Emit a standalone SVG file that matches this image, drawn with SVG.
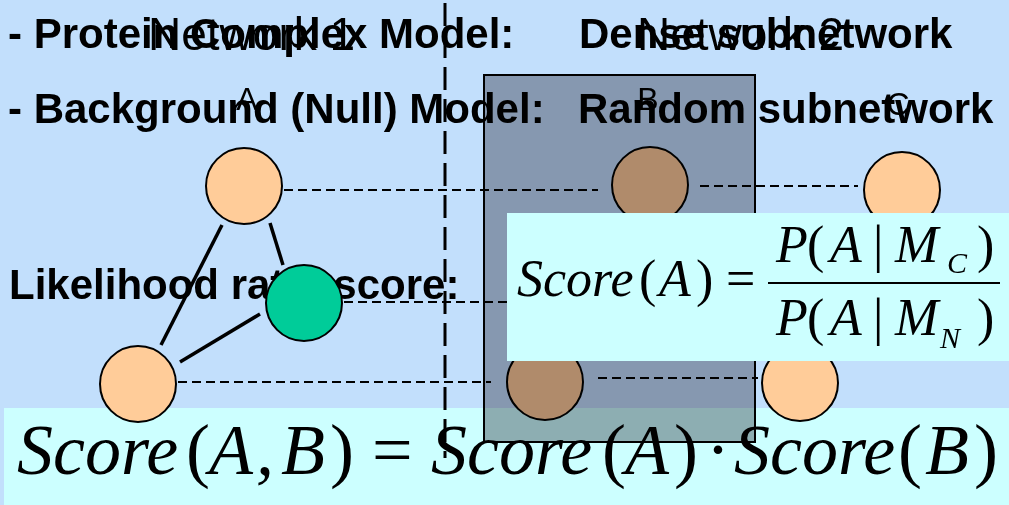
<svg xmlns="http://www.w3.org/2000/svg" width="1009" height="505" viewBox="0 0 1009 505">
<style>
.bg{fill:#C2DFFC}
.cyan{fill:#CCFFFF}
.hd{font-family:"Liberation Sans",Arial,sans-serif;font-weight:bold;font-size:42px;fill:#000}
.net{font-family:"Liberation Sans",Arial,sans-serif;font-size:46px;fill:#000}
.lbl{font-family:"Liberation Sans",Arial,sans-serif;font-size:32px;fill:#000;text-anchor:middle}
.node{stroke:#000;stroke-width:2}
.orange{fill:#FFCC99}
.green{fill:#00CC99}
.edge{stroke:#000;stroke-width:3.5;fill:none}
.dash{stroke:#000;stroke-width:2;stroke-dasharray:9 5;fill:none}
.vdash{stroke:#000;stroke-width:3;stroke-dasharray:23 9;fill:none}
.math{font-family:"Liberation Serif","Times New Roman",serif;fill:#000}
.it{font-style:italic}
.sel{fill:rgb(176,174,178);stroke:#000;stroke-width:2;mix-blend-mode:multiply}
</style>
<rect class="bg" x="0" y="0" width="1009" height="505"/>
<rect id="score-ab-box" class="cyan" x="4" y="408" width="1005" height="97"/>
<line class="vdash" x1="445" y1="3" x2="445" y2="458"/>
<g id="titles">
<text class="hd" x="8" y="48">- Protein Complex Model:<tspan x="579">Dense subnetwork</tspan></text>
<text class="hd" x="8" y="123">- Background (Null) Model:<tspan x="578">Random subnetwork</tspan></text>
<text class="net" x="148" y="50">Network 1</text>
<text class="net" x="637" y="50">Network 2</text>
<text class="lbl" x="247" y="110">A</text>
<text class="lbl" x="648" y="110">B</text>
<text class="lbl" x="898" y="115">C</text>
<text class="hd" x="9" y="299">Likelihood ratio score:</text>
</g>
<g id="connectors">
<line class="edge" x1="222" y1="225" x2="161" y2="345"/>
<line class="edge" x1="270" y1="223" x2="283" y2="265"/>
<line class="edge" x1="260" y1="314" x2="180" y2="362"/>
<line class="dash" x1="284" y1="190" x2="598" y2="190"/>
<line class="dash" x1="700" y1="186" x2="858" y2="186"/>
<line class="dash" x1="344" y1="302" x2="507" y2="302"/>
<line class="dash" x1="178" y1="382" x2="491" y2="382"/>
<line class="dash" x1="598" y1="378" x2="758" y2="378"/>
</g>
<g id="n1-top"><circle class="node orange" cx="244" cy="186" r="38"/></g>
<g id="n1-green"><circle class="node green" cx="304" cy="303" r="38"/></g>
<g id="n1-bottom"><circle class="node orange" cx="138" cy="384" r="38"/></g>
<g id="n2-b-top"><circle class="node orange" cx="650" cy="185" r="38"/></g>
<g id="n2-c-top"><circle class="node orange" cx="902" cy="190" r="38"/></g>
<g id="n2-b-bottom"><circle class="node orange" cx="545" cy="382" r="38"/></g>
<g id="n2-c-bottom"><circle class="node orange" cx="800" cy="383" r="38"/></g>
<rect id="random-subnetwork" class="sel" x="484" y="75" width="271" height="367"/>
<g id="score-a">
<rect class="cyan" x="507" y="213" width="502" height="148"/>
<text class="math" font-size="52" y="296"><tspan class="it" x="517">Score</tspan><tspan x="639">(</tspan><tspan class="it" x="659">A</tspan><tspan x="696">)</tspan><tspan x="726">=</tspan></text>
<line x1="768" y1="283" x2="1000" y2="283" stroke="#000" stroke-width="2"/>
<text class="math" font-size="52" y="262"><tspan class="it" x="776">P</tspan><tspan x="807">(</tspan><tspan class="it" x="830">A</tspan><tspan x="873">|</tspan><tspan class="it" x="895">M</tspan><tspan x="977">)</tspan></text>
<text class="math it" font-size="30" x="947" y="273">C</text>
<text class="math" font-size="52" y="335"><tspan class="it" x="776">P</tspan><tspan x="807">(</tspan><tspan class="it" x="830">A</tspan><tspan x="873">|</tspan><tspan class="it" x="895">M</tspan><tspan x="977">)</tspan></text>
<text class="math it" font-size="30" x="940" y="348">N</text>
</g>
<g id="score-ab">
<text class="math" font-size="72" y="474"><tspan class="it" x="17">Score</tspan><tspan x="186">(</tspan><tspan class="it" x="209">A</tspan><tspan class="it" x="256">,</tspan><tspan class="it" x="281">B</tspan><tspan x="330">)</tspan><tspan x="372">=</tspan><tspan class="it" x="431">Score</tspan><tspan x="602">(</tspan><tspan class="it" x="625">A</tspan><tspan x="674">)</tspan><tspan x="706">·</tspan><tspan class="it" x="734">Score</tspan><tspan x="898">(</tspan><tspan class="it" x="925">B</tspan><tspan x="974">)</tspan></text>
</g>
</svg>
